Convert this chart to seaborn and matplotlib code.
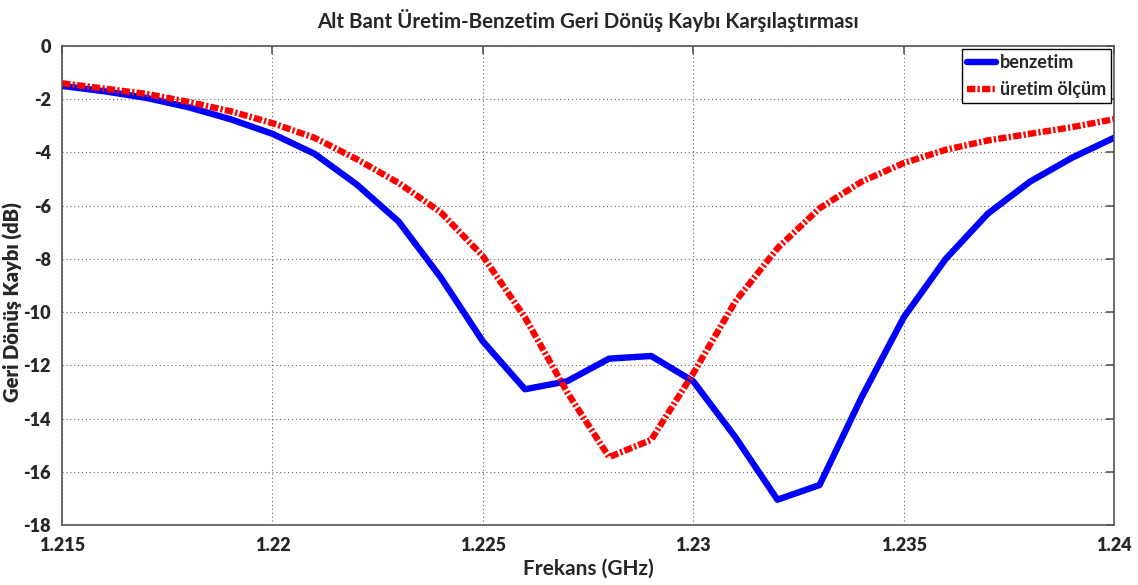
import numpy as np
import pandas as pd
import matplotlib
matplotlib.use("Agg")
import matplotlib.pyplot as plt
import seaborn as sns

# Frequency sweep (GHz) and return loss (dB)
frekans = [1.215, 1.216, 1.217, 1.218, 1.219, 1.220, 1.221, 1.222, 1.223,
           1.224, 1.225, 1.226, 1.227, 1.228, 1.229, 1.230, 1.231, 1.232,
           1.233, 1.234, 1.235, 1.236, 1.237, 1.238, 1.239, 1.240]
benzetim = [-1.5, -1.7, -1.95, -2.3, -2.75, -3.3, -4.05, -5.2, -6.6,
            -8.7, -11.1, -12.9, -12.6, -11.75, -11.65, -12.6, -14.7, -17.05,
            -16.5, -13.2, -10.2, -8.0, -6.3, -5.1, -4.2, -3.45]
uretim = [-1.4, -1.6, -1.8, -2.1, -2.45, -2.9, -3.45, -4.25, -5.15,
          -6.25, -7.9, -10.2, -13.0, -15.45, -14.8, -12.3, -9.6, -7.6,
          -6.1, -5.1, -4.4, -3.9, -3.55, -3.3, -3.05, -2.75]

x_ticks = [1.215, 1.22, 1.225, 1.23, 1.235, 1.24]
x_tick_labels = ["1.215", "1.22", "1.225", "1.23", "1.235", "1.24"]
y_ticks = list(range(-18, 1, 2))

df = pd.DataFrame({"f": frekans, "benzetim": benzetim, "uretim": uretim})

sns.set_theme(style="white")
plt.rcParams["font.family"] = ["Lato", "DejaVu Sans"]

fig = plt.figure(figsize=(11.38, 5.85), dpi=100)
ax = fig.add_axes([0.0545, 0.1026, 0.9245, 0.8188])

sns.lineplot(data=df, x="f", y="benzetim", ax=ax, color="#0000ff",
             linewidth=4.6, label="benzetim")
sns.lineplot(data=df, x="f", y="uretim", ax=ax, color="#ff0000",
             linewidth=4.6, label="üretim ölçüm")
ax.lines[1].set_linestyle((0, (1.3, 0.35, 0.35, 0.35)))

ax.set_xlim(1.215, 1.24)
ax.set_ylim(-18, 0)
ax.set_xticks(x_ticks)
ax.set_xticklabels(x_tick_labels)
ax.set_yticks(y_ticks)
ax.set_yticklabels([str(v) for v in y_ticks])

ax.grid(True, linestyle=(0, (1, 2.5)), color="#666666", linewidth=0.8)
ax.tick_params(direction="in", length=6, width=1.2, color="#555555",
               top=True, right=True, labelsize=13)
ax.tick_params(axis="x", pad=9)
ax.tick_params(axis="y", pad=8)
for lbl in ax.get_xticklabels() + ax.get_yticklabels():
    lbl.set_fontweight("heavy")
for s in ax.spines.values():
    s.set_color("#555555")
    s.set_linewidth(1.2)

ax.set_xlabel("Frekans (GHz)", fontsize=15, fontweight="bold", labelpad=3)
ax.set_ylabel("Geri Dönüş Kaybı (dB)", fontsize=14.5, fontweight="heavy")
ax.yaxis.set_label_coords(-0.037, 0.465)
ax.set_title("Alt Bant Üretim-Benzetim Geri Dönüş Kaybı Karşılaştırması",
             fontsize=14.8, fontweight="bold", pad=13)

leg = ax.legend(loc="upper right", fancybox=False, framealpha=1,
                edgecolor="black", borderpad=0.3, handlelength=1.6,
                handletextpad=0.2, labelspacing=0.55, borderaxespad=0.15,
                prop={"size": 13, "weight": "bold"})
leg.get_frame().set_linewidth(1.0)

fig.savefig("out.png", dpi=100, facecolor="white")
